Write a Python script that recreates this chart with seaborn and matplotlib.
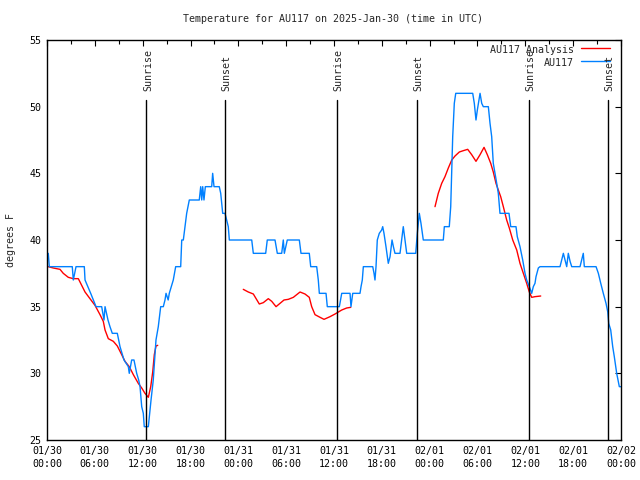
import numpy as np
import pandas as pd
import matplotlib
matplotlib.use("Agg")
import matplotlib.pyplot as plt
import seaborn as sns

# ---------------- data (hours since 2025-01-30 00:00 UTC) ----------------
obs_hours = [0.16, 0.29, 3.17, 3.30, 3.64, 4.68, 4.77, 5.48, 6.15, 6.86, 7.15, 7.28, 7.65, 7.90,
             8.19, 8.82, 9.16, 9.66, 10.20, 10.32, 10.62, 10.91, 11.25, 11.50, 11.67, 11.88,
             12.08, 12.20, 12.71, 13.05, 13.33, 13.67, 13.96, 14.26, 14.59, 14.80, 14.93, 15.20,
             15.34, 15.84, 16.14, 16.77, 16.90, 17.10, 17.31, 17.52, 17.85, 19.10, 19.28, 19.41,
             19.53, 19.69, 19.86, 20.66, 20.78, 20.95, 21.61, 21.79, 22.04, 22.33, 22.54, 22.74,
             22.87, 25.68, 25.88, 27.43, 27.63, 28.60, 28.89, 29.44, 29.64, 29.77, 30.14, 31.65,
             31.86, 32.90, 33.08, 33.83, 34.03, 34.16, 35.00, 35.16, 36.67, 36.97, 38.01, 38.13,
             38.35, 39.26, 39.39, 39.55, 39.68, 40.86, 41.02, 41.14, 41.27, 41.43, 41.68, 41.98,
             42.11, 42.27, 42.52, 42.81, 43.03, 43.28, 43.45, 43.65, 44.28, 44.49, 44.69, 44.91,
             45.12, 46.25, 46.38, 46.45, 46.70, 46.91, 47.20, 49.71, 49.84, 50.46, 50.64, 50.89,
             51.09, 51.27, 53.40, 53.60, 53.81, 53.98, 54.19, 54.32, 54.53, 54.73, 55.36, 55.57,
             55.78, 55.98, 56.20, 56.41, 56.61, 56.82, 57.95, 58.17, 58.83, 58.99, 59.33, 59.67,
             59.96, 60.17, 60.50, 60.80, 61.00, 61.21, 61.34, 61.63, 61.84, 64.35, 64.56, 64.77,
             64.98, 65.19, 65.39, 65.61, 65.82, 66.86, 67.07, 67.27, 67.40, 68.87, 69.16, 69.46,
             69.78, 70.12, 70.34, 70.46, 70.71, 70.96, 71.16, 71.46, 71.79, 72.00]
obs_temp = [39, 38, 38, 37, 38, 38, 37, 36, 35, 35, 34, 35, 34, 33.5,
            33, 33, 32, 31, 30.5, 30, 31, 31, 30, 29.5, 29, 27.5,
            27, 26, 26, 28, 29.5, 32.5, 33.5, 35, 35, 35.5, 36, 35.5,
            36, 37, 38, 38, 40, 40, 41, 42, 43, 43, 44, 43,
            44, 43, 44, 44, 45, 44, 44, 43.5, 42, 42, 41.5, 41,
            40, 40, 39, 39, 40, 40, 39, 39, 40, 39, 40, 40,
            39, 39, 38, 38, 37, 36, 36, 35, 35, 36, 36, 35,
            36, 36, 36.5, 37, 38, 38, 37.5, 37, 38, 40, 40.5, 40.75,
            41, 40.5, 39.5, 38.25, 38.75, 40, 39.5, 39, 39, 40, 41, 40,
            39, 39, 40, 40.5, 42, 41.25, 40, 40, 41, 41, 42.5, 47.75,
            50.25, 51, 51, 50.25, 49, 49.75, 50.5, 51, 50.25, 50, 50, 48.75,
            47.75, 45.75, 45, 44.25, 43.5, 42, 42, 41, 41, 40.25, 39.5, 38.5,
            37.5, 37, 36.5, 36, 36.5, 36.75, 37.25, 37.9, 38, 38, 38.5, 39,
            38.5, 38, 39, 38.4, 38, 38, 38.5, 39, 38, 38, 37.5, 36.75,
            36, 35.25, 34.6, 33.75, 33.25, 32, 31.25, 30, 29, 29]

ana_hours = [0.16, 0.79, 1.63, 2.04, 2.67, 3.30, 3.93, 4.35, 4.77, 5.39, 6.02, 6.65, 7.06, 7.28,
             7.69, 8.32, 8.82, 9.37, 9.78, 10.32, 10.83, 11.45, 11.88, 12.29, 12.71, 13.01,
             13.26, 13.46, 13.67, 13.89,
             24.62, 25.25, 25.88, 26.63, 27.13, 27.76, 28.19, 28.73, 29.23, 29.73, 30.27, 30.90,
             31.74, 32.36, 32.90, 33.20, 33.62, 34.25, 34.75, 35.50, 36.13, 36.97, 37.59, 38.10,
             48.67, 49.08, 49.51, 49.92, 50.34, 50.77, 51.18, 51.72, 52.22, 52.77, 53.27, 53.81,
             54.32, 54.82, 55.23, 55.66, 55.98, 56.32, 56.61, 56.91, 57.24, 57.66, 57.99, 58.42,
             58.92, 59.33, 59.75, 60.17, 60.50, 60.80, 61.21, 61.93]
ana_temp = [38, 37.9, 37.8, 37.5, 37.2, 37.1, 37.1, 36.6, 36.1, 35.6, 35.1, 34.4, 33.9, 33.25,
            32.6, 32.4, 32.05, 31.4, 30.9, 30.5, 29.9, 29.25, 28.9, 28.5, 28.2, 29,
            30.1, 31.4, 32.05, 32.1,
            36.3, 36.1, 35.95, 35.2, 35.3, 35.6, 35.4, 35, 35.25, 35.5, 35.55, 35.7,
            36.1, 35.95, 35.7, 35, 34.4, 34.2, 34.05, 34.25, 34.45, 34.75, 34.9, 34.95,
            42.5, 43.5, 44.25, 44.75, 45.4, 46, 46.3, 46.6, 46.7, 46.8, 46.4, 45.9,
            46.4, 46.95, 46.4, 45.75, 45.1, 44.25, 43.75, 43.25, 42.5, 41.5, 40.9, 40,
            39.25, 38.25, 37.5, 36.75, 36.1, 35.7, 35.75, 35.8]
ana_segment = [0] * 30 + [1] * 24 + [2] * 32

sun_hours = [12.47, 22.28, 36.33, 46.35, 60.40, 70.38]
sun_labels = ["Sunrise", "Sunset", "Sunrise", "Sunset", "Sunrise", "Sunset"]

x_tick_hours = list(range(0, 73, 6))
x_tick_labels = ["01/30\n00:00", "01/30\n06:00", "01/30\n12:00", "01/30\n18:00",
                 "01/31\n00:00", "01/31\n06:00", "01/31\n12:00", "01/31\n18:00",
                 "02/01\n00:00", "02/01\n06:00", "02/01\n12:00", "02/01\n18:00",
                 "02/02\n00:00"]
y_ticks = [25, 30, 35, 40, 45, 50, 55]

title = "Temperature for AU117 on 2025-Jan-30 (time in UTC)"
ylabel = "degrees F"
series_names = ["AU117 Analysis", "AU117"]

RED = "#ff0000"
BLUE = "#0080ff"

# ---------------- plot ----------------
sns.set_style("white")
plt.rcParams["font.family"] = ["DejaVu Sans Mono"]
plt.rcParams["font.size"] = 7.2

fig = plt.figure(figsize=(6.4, 4.8), dpi=100)
ax = fig.add_axes([47 / 640, 40 / 480, (621 - 47) / 640, 400 / 480])

obs = pd.DataFrame({"hours": obs_hours, "temp": obs_temp})
ana = pd.DataFrame({"hours": ana_hours, "temp": ana_temp, "seg": ana_segment})

sns.lineplot(data=ana, x="hours", y="temp", units="seg", estimator=None,
             color=RED, linewidth=1.0, ax=ax, sort=False)
sns.lineplot(data=obs, x="hours", y="temp", color=BLUE, linewidth=1.0, ax=ax, sort=False)

ax.set_xlim(0, 72)
ax.set_ylim(25, 55)

# sunrise / sunset markers
for h, lab in zip(sun_hours, sun_labels):
    ax.plot([h, h], [25, 50.5], color="black", linewidth=1.0)
    ax.text(h + 0.2, 51.15, lab, rotation=90, ha="center", va="bottom", fontsize=7.2)

ax.set_xticks(x_tick_hours)
ax.set_xticklabels(x_tick_labels, linespacing=1.45)
ax.set_xticks(list(range(3, 72, 6)), minor=True)
ax.set_yticks(y_ticks)
ax.set_yticklabels([str(v) for v in y_ticks])
ax.tick_params(axis="both", which="both", direction="in", top=True, right=True,
               length=4, width=0.8, colors="black", pad=4)
ax.tick_params(axis="both", which="minor", length=3)

for sp in ax.spines.values():
    sp.set_color("black")
    sp.set_linewidth(1.0)

ax.set_xlabel("")
ax.set_ylabel(ylabel, labelpad=10)
fig.text(333 / 640, 1 - 19 / 480, title, ha="center", va="center", fontsize=7.2)

# legend drawn gnuplot-style (right aligned text, sample to the right)
for i, (name, col) in enumerate(zip(series_names, [RED, BLUE])):
    yy = 1 - (10 + 13 * i) / 400
    ax.text((574 - 47) / 574, yy, name, transform=ax.transAxes, ha="right", va="center",
            fontsize=7.2)
    ax.plot([(581 - 47) / 574, (610 - 47) / 574], [yy + 0.004, yy + 0.004],
            transform=ax.transAxes, color=col, linewidth=1.0, clip_on=False)

fig.savefig("out.png", dpi=100)
